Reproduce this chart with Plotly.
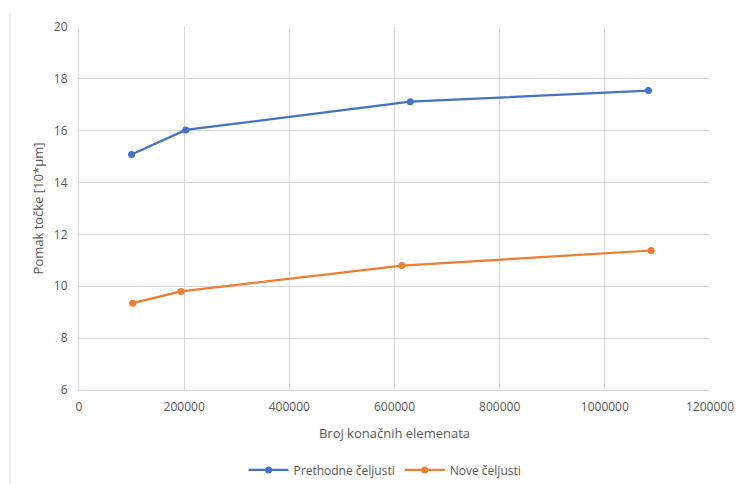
import plotly.graph_objects as go

# broj elemenata i pomak tocke
x_prethodne = [100000, 203000, 630000, 1083000]
y_prethodne = [15.08, 16.03, 17.12, 17.55]

x_nove = [102000, 194000, 614000, 1088000]
y_nove = [9.35, 9.8, 10.8, 11.38]

gray = "#595959"
grid = "#d9d9d9"

fig = go.Figure()
fig.add_trace(go.Scatter(
    x=x_prethodne, y=y_prethodne,
    mode="lines+markers",
    name="Prethodne čeljusti",
    line=dict(color="#4472C4", width=2.25),
    marker=dict(size=7, color="#4472C4")
))
fig.add_trace(go.Scatter(
    x=x_nove, y=y_nove,
    mode="lines+markers",
    name="Nove čeljusti",
    line=dict(color="#ED7D31", width=2.25),
    marker=dict(size=7, color="#ED7D31")
))

fig.update_layout(
    width=736,
    height=484,
    paper_bgcolor="white",
    plot_bgcolor="white",
    font=dict(family="Open Sans", size=12, color=gray),
    margin=dict(l=79, r=26, t=27, b=94),
    xaxis=dict(
        range=[0, 1200000],
        tickvals=[0, 200000, 400000, 600000, 800000, 1000000, 1200000],
        ticktext=["0", "200000", "400000", "600000", "800000", "1000000", "1200000"],
        showgrid=True, gridcolor=grid, gridwidth=1,
        showline=True, linecolor=grid, zeroline=False,
        ticks="", tickfont=dict(size=12, color=gray), automargin=False,
        ticklabelstandoff=6,
        title=dict(text="Broj konačnih elemenata", font=dict(size=13, color=gray), standoff=14)
    ),
    yaxis=dict(
        range=[6, 20],
        dtick=2,
        showgrid=True, gridcolor=grid, gridwidth=1,
        showline=True, linecolor=grid, zeroline=False,
        ticks="", tickfont=dict(size=12, color=gray), automargin=False,
        ticklabelstandoff=8,
        title=dict(text="Pomak točke [10*µm]", font=dict(size=13, color=gray), standoff=7)
    ),
    legend=dict(
        orientation="h",
        x=0.485, y=0.029, yref="container",
        xanchor="center", yanchor="middle",
        font=dict(size=12, color=gray),
        itemwidth=40
    ),
    shapes=[
        dict(type="line", xref="paper", yref="paper",
             x0=-0.1094, x1=-0.1094, y0=-0.26, y1=1.036,
             line=dict(color=grid, width=1))
    ],
    showlegend=True
)

fig.write_html("out.html", config={"displayModeBar": False},
               post_script="document.body.style.margin='0';document.body.style.overflow='hidden';")
